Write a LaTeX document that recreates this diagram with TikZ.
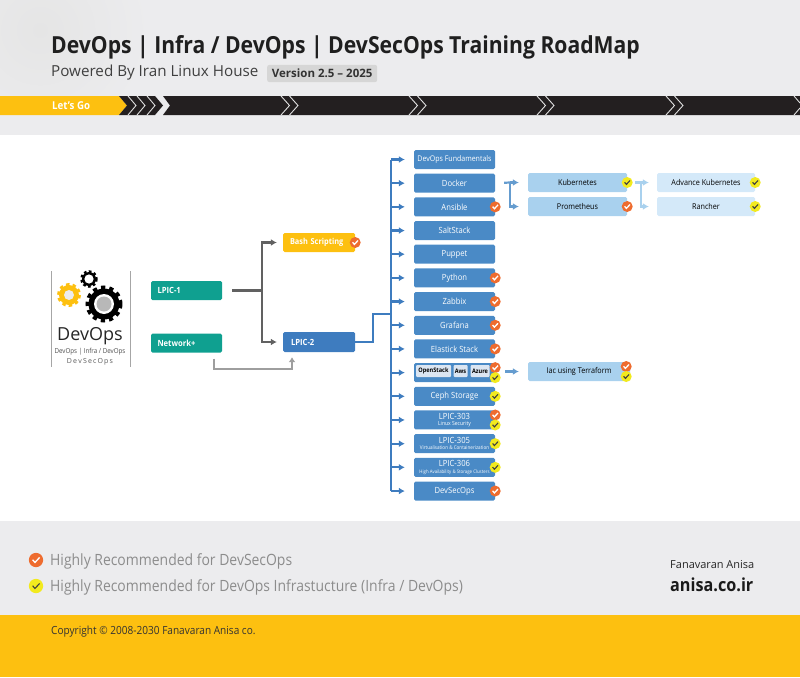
\documentclass[tikz,border=0pt]{standalone}
\usepackage{fontspec}
\setmainfont[FakeStretch=0.9]{Open Sans}
\newfontfamily\widefont{Open Sans}
\usepackage[HTML]{xcolor}
\usetikzlibrary{positioning, arrows.meta}

\definecolor{panelgray}{HTML}{ECECEE}
\definecolor{sunyellow}{HTML}{FDC010}
\definecolor{barblack}{HTML}{231F20}
\definecolor{boxblue}{HTML}{4A8AC6}
\definecolor{lineblue}{HTML}{3E7CBF}
\definecolor{boxteal}{HTML}{0FA090}
\definecolor{midblue}{HTML}{A9D1EE}
\definecolor{paleblue}{HTML}{D4E9F9}
\definecolor{cloudblue}{HTML}{DCE6F2}
\definecolor{chkred}{HTML}{EE6C2F}
\definecolor{chkyellow}{HTML}{F2EA1E}

\tikzset{
  basebox/.style={rounded corners=1.5pt, inner sep=0pt, minimum height=19pt, align=center},
  bluebox/.style={basebox, fill=boxblue, text=white, minimum width=81pt, font=\fontsize{8.5}{9}\selectfont},
  tealbox/.style={basebox, fill=boxteal, text=white, minimum width=71pt, text width=58pt, align=left, font=\fontsize{8.5}{9}\selectfont\bfseries},
  midbox/.style={basebox, fill=midblue, minimum width=99pt, font=\fontsize{8}{9}\selectfont},
  palebox/.style={basebox, fill=paleblue, minimum width=98pt, font=\fontsize{8}{9}\selectfont},
  cloudbox/.style={rounded corners=1pt, inner sep=0pt, fill=cloudblue, minimum height=12pt, font=\fontsize{6.2}{7}\selectfont\bfseries},
  darkline/.style={draw=black!62, line width=2.2pt, -{Latex[length=6pt,width=7pt]}},
  blueline/.style={draw=lineblue, line width=2.2pt, -{Latex[length=6pt,width=7pt]}},
  chevline/.style={draw=white!88!black, line width=.9pt},
  redchk/.pic={
    \fill[chkred] (0,0) circle (5.5);
    \draw[white, line width=1.3pt] (-2.6,-0.2) -- (-0.8,1.9) -- (2.8,-2);
  },
  yellowchk/.pic={
    \fill[chkyellow] (0,0) circle (5.5);
    \draw[black!75, line width=1.1pt] (-2.6,-0.2) -- (-0.8,1.9) -- (2.8,-2);
  },
}

\begin{document}
\begin{tikzpicture}[x=1pt, y=-1pt, node distance=4.28pt]
    \useasboundingbox (0,0) rectangle (800,677);

    % 1. Page bands
    \fill[panelgray] (0,0) rectangle (800,135);
    \begin{scope}
        \clip (0,0) rectangle (800,95);
        \shade[inner color=black!10, outer color=panelgray] (40,30) circle (110);
    \end{scope}
    \fill[panelgray] (0,521) rectangle (800,615);
    \fill[sunyellow] (0,615) rectangle (800,677);

    % 2. Header texts
    \node[anchor=west, inner sep=0pt, text=black!88, font=\fontsize{23.5}{26}\selectfont\bfseries] (title) at (51,47) {DevOps | Infra / DevOps | DevSecOps Training RoadMap};
    \node[anchor=west, inner sep=0pt, text=black!75, font=\widefont\fontsize{15.2}{18}\selectfont] (powered) at (51,73) {Powered By Iran Linux House};
    \node[anchor=west, fill=black!16, rounded corners=2pt, inner sep=0pt, minimum width=110pt, minimum height=17pt, text=black!80, font=\widefont\fontsize{11.5}{13}\selectfont\bfseries] (version) at (267,73.5) {Version 2.5 – 2025};

    % 3. Arrow bar
    \fill[sunyellow] (0,96) -- (119,96) -- (127,105.5) -- (119,115) -- (0,115) -- cycle;
    \fill[barblack] (119,96) -- (155,96) -- (163,105.5) -- (155,115) -- (119,115) -- (127,105.5) -- cycle;
    \fill[barblack] (163,96) -- (800,96) -- (800,115) -- (163,115) -- (170,105.5) -- cycle;
    \node[anchor=west, inner sep=0pt, text=white, font=\fontsize{10.8}{12}\selectfont\bfseries] (letsgo) at (52,105.5) {Let's Go};
    \draw[chevline] (128,96) -- (136,105.5) -- (128,115);
    \draw[chevline] (137,96) -- (145,105.5) -- (137,115);
    \draw[chevline] (147,96) -- (155,105.5) -- (147,115);
    \draw[chevline] (281,96) -- (289.5,105.5) -- (281,115) (289.5,96) -- (298,105.5) -- (289.5,115);
    \draw[chevline] (409,96) -- (417.5,105.5) -- (409,115) (417.5,96) -- (426,105.5) -- (417.5,115);
    \draw[chevline] (537,96) -- (545.5,105.5) -- (537,115) (545.5,96) -- (554,105.5) -- (545.5,115);
    \draw[chevline] (666,96) -- (674.5,105.5) -- (666,115) (674.5,96) -- (683,105.5) -- (674.5,115);
    \draw[chevline] (794,96) -- (800,103) (794,115) -- (800,108);

    % 4. Logo
    \draw[black!35, line width=.8pt] (51,271) -- (51,367);
    \draw[black!35, line width=.8pt] (130,271) -- (130,367);
    \fill[sunyellow] (69,295) circle (10);
    \draw[sunyellow, line width=3pt, dash pattern=on 3.4pt off 3.2pt] (69,295) circle (10.5);
    \fill[panelgray] (69,295) circle (5);
    \fill[black] (89,279) circle (7);
    \draw[black, line width=2.5pt, dash pattern=on 2.6pt off 2.4pt] (89,279) circle (7.5);
    \fill[white] (89,279) circle (4.6);
    \fill[black] (104,304) circle (15.5);
    \draw[black, line width=4pt, dash pattern=on 4.2pt off 4.1pt] (104,304) circle (16.5);
    \fill[white] (104,304) circle (10);
    \fill[black!28] (104,304) circle (7.5);
    \node[inner sep=0pt, text=black!85, font=\widefont\fontsize{18}{20}\selectfont] (logoname) at (90,336) {DevOps};
    \node[inner sep=0pt, text=black!70, font=\fontsize{6.9}{8}\selectfont] (logosub) at (90,352) {DevOps | Infra / DevOps};
    \node[inner sep=0pt, text=black!65, font=\widefont\fontsize{7}{8}\selectfont] (logosec) at (90,362) {D\,e\,v\,S\,e\,c\,O\,p\,s};

    % 5. Left column
    \node[tealbox] (lpicone) at (186.5,290.5) {LPIC-1};
    \node[tealbox] (network) at (186.5,343) {Network+};
    \node[basebox, fill=sunyellow, text=white, minimum width=72pt, font=\fontsize{8.2}{9}\selectfont\bfseries, text width=58pt, align=left] (bash) at (319,242.5) {Bash Scripting};
    \node[basebox, fill=lineblue, text=white, minimum width=72pt, minimum height=20pt, font=\fontsize{8.5}{9}\selectfont\bfseries, text width=56pt, align=left] (lpictwo) at (319,342) {LPIC-2};

    % 6. Blue column
    \node[bluebox] (fundamentals) at (454.5,159.5) {\fontsize{7.8}{8}\selectfont DevOps Fundamentals};
    \node[bluebox] (docker) [below=of fundamentals] {Docker};
    \node[bluebox] (ansible) [below=of docker] {Ansible};
    \node[bluebox] (saltstack) [below=of ansible] {SaltStack};
    \node[bluebox] (puppet) [below=of saltstack] {Puppet};
    \node[bluebox] (python) [below=of puppet] {Python};
    \node[bluebox] (zabbix) [below=of python] {Zabbix};
    \node[bluebox] (grafana) [below=of zabbix] {Grafana};
    \node[bluebox] (elastick) [below=of grafana] {Elastick Stack};
    \node[bluebox] (clouds) [below=of elastick] {};
    \node[bluebox] (ceph) [below=of clouds] {Ceph Storage};
    \node[bluebox] (lpicthree) [below=of ceph] {LPIC-303\\[-2.5pt]{\fontsize{5.6}{6}\selectfont Linux Security}};
    \node[bluebox] (lpicfive) [below=of lpicthree] {LPIC-305\\[-2.5pt]{\fontsize{5.1}{6}\selectfont Virtualisation \& Containerization}};
    \node[bluebox] (lpicsix) [below=of lpicfive] {LPIC-306\\[-2.5pt]{\fontsize{4.8}{6}\selectfont High Availability \& Storage Clusters}};
    \node[bluebox] (devsecops) [below=of lpicsix] {DevSecOps};

    % sub boxes in the cloud row
    \node[cloudbox, minimum width=35pt] (openstack) at (433.5,371) {OpenStack};
    \node[cloudbox, minimum width=14pt] (aws) at (460.5,371) {Aws};
    \node[cloudbox, minimum width=19pt] (azure) at (480,371) {Azure};

    % 7. Right columns
    \node[midbox] (kubernetes) at (577.5,182.5) {Kubernetes};
    \node[midbox] (prometheus) at (577.5,206.5) {Prometheus};
    \node[palebox] (advanced) at (706,182.5) {Advance Kubernetes};
    \node[palebox] (rancher) at (706,206.5) {Rancher};
    \node[midbox, minimum width=102pt] (iac) at (579,371.5) {Iac using Terraform};

    % 8. Connectors, left part
    \coordinate (jointdark) at (262,290.5);
    \draw[darkline, -, shorten <=10pt] (lpicone.east) -- (jointdark);
    \draw[darkline, shorten >=6pt] (jointdark) |- (bash.west);
    \draw[darkline, shorten >=6pt] (jointdark) |- (lpictwo.west);
    \coordinate (lowgray) at (214,369);
    \draw[draw=black!38, line width=1.6pt, -{Latex[length=5pt,width=7pt]}, shorten >=5pt] (lowgray |- network.south) ++(0,6) -- (lowgray) -| ([xshift=-27pt]lpictwo.south);

    % 9. Connectors, blue trunk
    \coordinate (trunk) at (391,314);
    \coordinate (bend) at (373,314);
    \draw[blueline, -] (lpictwo.east) -| (bend) -- (trunk);
    \draw[blueline, -] (trunk |- fundamentals.west) -- (trunk |- devsecops.west);
    \draw[blueline, shorten >=9pt] (trunk |- fundamentals.west) -- (fundamentals.west);
    \draw[blueline, shorten >=9pt] (trunk |- docker.west) -- (docker.west);
    \draw[blueline, shorten >=9pt] (trunk |- ansible.west) -- (ansible.west);
    \draw[blueline, shorten >=9pt] (trunk |- saltstack.west) -- (saltstack.west);
    \draw[blueline, shorten >=9pt] (trunk |- puppet.west) -- (puppet.west);
    \draw[blueline, shorten >=9pt] (trunk |- python.west) -- (python.west);
    \draw[blueline, shorten >=9pt] (trunk |- zabbix.west) -- (zabbix.west);
    \draw[blueline, shorten >=9pt] (trunk |- grafana.west) -- (grafana.west);
    \draw[blueline, shorten >=9pt] (trunk |- elastick.west) -- (elastick.west);
    \draw[blueline, shorten >=9pt] (trunk |- clouds.west) -- (clouds.west);
    \draw[blueline, shorten >=9pt] (trunk |- ceph.west) -- (ceph.west);
    \draw[blueline, shorten >=9pt] (trunk |- lpicthree.west) -- (lpicthree.west);
    \draw[blueline, shorten >=9pt] (trunk |- lpicfive.west) -- (lpicfive.west);
    \draw[blueline, shorten >=9pt] (trunk |- lpicsix.west) -- (lpicsix.west);
    \draw[blueline, shorten >=9pt] (trunk |- devsecops.west) -- (devsecops.west);

    % 10. Connectors, right part
    \coordinate (jointmid) at (510,182.5);
    \draw[blueline, draw=boxblue!85, -, shorten <=9pt] (docker.east) -- (jointmid);
    \draw[blueline, draw=boxblue!85, shorten >=9pt] (jointmid) -- (kubernetes.west);
    \draw[blueline, draw=boxblue!85, shorten >=9pt] (jointmid) |- (prometheus.west);
    \coordinate (jointpale) at (641,182.5);
    \draw[blueline, draw=midblue, -, shorten <=8pt] (kubernetes.east) -- (jointpale);
    \draw[blueline, draw=midblue, shorten >=8pt] (jointpale) -- (advanced.west);
    \draw[blueline, draw=midblue, shorten >=8pt] (jointpale) |- (rancher.west);
    \draw[blueline, draw=boxblue!85, shorten <=10pt, shorten >=9pt] (clouds.east |- iac.west) -- (iac.west);

    % 11. Badges
    \pic at (bash.east) {redchk};
    \pic at (ansible.east) {redchk};
    \pic at (python.east) {redchk};
    \pic at (zabbix.east) {redchk};
    \pic at (grafana.east) {redchk};
    \pic at (elastick.east) {redchk};
    \pic at ([yshift=5pt]clouds.east) {redchk};
    \pic at ([yshift=-5pt]clouds.east) {yellowchk};
    \pic at (ceph.east) {yellowchk};
    \pic at ([yshift=5pt]lpicthree.east) {redchk};
    \pic at ([yshift=-5pt]lpicthree.east) {yellowchk};
    \pic at (lpicfive.east) {yellowchk};
    \pic at (lpicsix.east) {yellowchk};
    \pic at (devsecops.east) {redchk};
    \pic at (kubernetes.east) {yellowchk};
    \pic at (prometheus.east) {redchk};
    \pic at (advanced.east) {yellowchk};
    \pic at (rancher.east) {yellowchk};
    \pic at ([xshift=-4pt, yshift=5pt]iac.east) {redchk};
    \pic at ([xshift=-4pt, yshift=-5pt]iac.east) {yellowchk};

    % 12. Legend and footer
    \pic[scale=1.3] at (36,560) {redchk};
    \pic[scale=1.3] at (36,586) {yellowchk};
    \node[anchor=west, inner sep=0pt, text=black!45, font=\fontsize{15.5}{18}\selectfont] (legendred) at (50,561) {Highly Recommended for DevSecOps};
    \node[anchor=west, inner sep=0pt, text=black!45, font=\fontsize{15.5}{18}\selectfont] (legendyellow) at (50,587) {Highly Recommended for DevOps Infrastucture (Infra / DevOps)};
    \node[anchor=west, inner sep=0pt, text=black!85, font=\widefont\fontsize{11}{13}\selectfont] (company) at (670,565) {Fanavaran Anisa};
    \node[anchor=west, inner sep=0pt, text=black!90, font=\fontsize{18}{20}\selectfont\bfseries] (website) at (670,585) {anisa.co.ir};
    \node[anchor=west, inner sep=0pt, text=black!80, font=\fontsize{11.2}{13}\selectfont] (copyright) at (51,632) {Copyright © 2008-2030 Fanavaran Anisa co.};
\end{tikzpicture}
\end{document}
